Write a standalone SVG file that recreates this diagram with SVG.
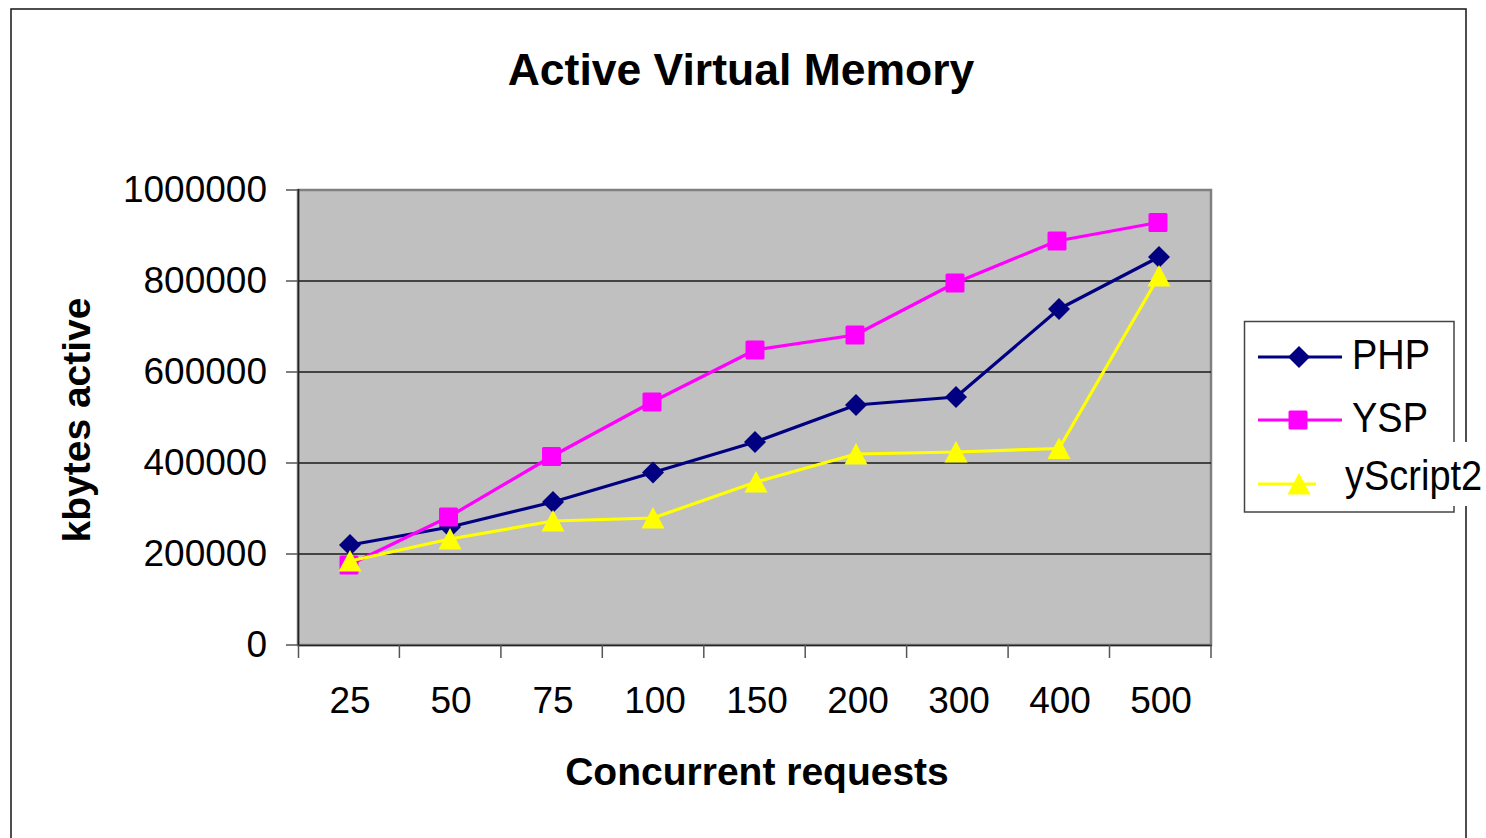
<svg xmlns="http://www.w3.org/2000/svg" width="1486" height="838" viewBox="0 0 1486 838">
  <style>
    text { font-family: "Liberation Sans", Arial, sans-serif; fill: #000; }
    .title { font-size: 44.5px; font-weight: bold; text-anchor: middle; }
    .axis-title { font-size: 39px; font-weight: bold; text-anchor: middle; }
    .ylab { font-size: 37px; text-anchor: end; }
    .xlab { font-size: 37px; text-anchor: middle; }
    .leg { font-size: 38px; }
    .grid { stroke: #1a1a1a; stroke-width: 1.3; }
    .tick { stroke: #555; stroke-width: 1.5; }
    .php { fill: none; stroke: #000080; stroke-width: 3.2; stroke-linejoin: round; }
    .ysp { fill: none; stroke: #FF00FF; stroke-width: 3.2; stroke-linejoin: round; }
    .ys2 { fill: none; stroke: #FFFF00; stroke-width: 3.2; stroke-linejoin: round; }
  </style>
  <defs>
    <path id="diamond" d="M0,-11 L11,0 L0,11 L-11,0 Z" fill="#000080"/>
    <rect id="square" x="-9.5" y="-9.5" width="19" height="19" rx="1.5" fill="#FF00FF"/>
    <path id="triangle" d="M0,-11 L11.5,10.5 L-11.5,10.5 Z" fill="#FFFF00"/>
  </defs>

  <rect width="1486" height="838" fill="#fff"/>
  <!-- chart frame -->
  <rect id="frame" x="11" y="9" width="1455" height="850" fill="#fff" stroke="#222" stroke-width="1.6"/>

  <text class="title" x="741" y="85">Active Virtual Memory</text>

  <!-- plot area -->
  <g id="plot-area">
    <rect x="298" y="190" width="913" height="455" fill="#C0C0C0" stroke="#808080" stroke-width="2.5"/>
    <line class="grid" x1="298" y1="281" x2="1211" y2="281"/>
    <line class="grid" x1="298" y1="372" x2="1211" y2="372"/>
    <line class="grid" x1="298" y1="463" x2="1211" y2="463"/>
    <line class="grid" x1="298" y1="554" x2="1211" y2="554"/>
    <line x1="298.5" y1="189" x2="298.5" y2="646" stroke="#222" stroke-width="1.6"/>
    <line x1="298" y1="645.5" x2="1212" y2="645.5" stroke="#222" stroke-width="1.6"/>
  </g>

  <!-- y axis ticks and labels -->
  <g id="y-axis">
    <line class="tick" x1="286" y1="190" x2="298" y2="190"/>
    <line class="tick" x1="286" y1="281" x2="298" y2="281"/>
    <line class="tick" x1="286" y1="372" x2="298" y2="372"/>
    <line class="tick" x1="286" y1="463" x2="298" y2="463"/>
    <line class="tick" x1="286" y1="554" x2="298" y2="554"/>
    <line class="tick" x1="286" y1="645" x2="298" y2="645"/>
    <text class="ylab" x="267" y="202">1000000</text>
    <text class="ylab" x="267" y="293">800000</text>
    <text class="ylab" x="267" y="384">600000</text>
    <text class="ylab" x="267" y="475">400000</text>
    <text class="ylab" x="267" y="566">200000</text>
    <text class="ylab" x="267" y="657">0</text>
    <text class="axis-title" transform="translate(90,420) rotate(-90)">kbytes active</text>
  </g>

  <!-- x axis ticks and labels -->
  <g id="x-axis">
    <line class="tick" x1="298.5" y1="645" x2="298.5" y2="658"/>
    <line class="tick" x1="399.4" y1="645" x2="399.4" y2="658"/>
    <line class="tick" x1="500.9" y1="645" x2="500.9" y2="658"/>
    <line class="tick" x1="602.3" y1="645" x2="602.3" y2="658"/>
    <line class="tick" x1="703.8" y1="645" x2="703.8" y2="658"/>
    <line class="tick" x1="805.2" y1="645" x2="805.2" y2="658"/>
    <line class="tick" x1="906.6" y1="645" x2="906.6" y2="658"/>
    <line class="tick" x1="1008.1" y1="645" x2="1008.1" y2="658"/>
    <line class="tick" x1="1109.5" y1="645" x2="1109.5" y2="658"/>
    <line class="tick" x1="1211" y1="645" x2="1211" y2="658"/>
    <text class="xlab" x="350" y="713">25</text>
    <text class="xlab" x="451" y="713">50</text>
    <text class="xlab" x="553" y="713">75</text>
    <text class="xlab" x="655" y="713">100</text>
    <text class="xlab" x="757" y="713">150</text>
    <text class="xlab" x="858" y="713">200</text>
    <text class="xlab" x="959" y="713">300</text>
    <text class="xlab" x="1060" y="713">400</text>
    <text class="xlab" x="1161" y="713">500</text>
    <text class="axis-title" x="757" y="785">Concurrent requests</text>
  </g>

  <!-- data series -->
  <g id="connectors">
    <g id="series-php">
      <polyline class="php" points="350,545 450,527 553,502 653,472.5 755,442 856,405 956,397 1059,309 1159,257"/>
      <use href="#diamond" x="350" y="545"/>
      <use href="#diamond" x="450" y="527"/>
      <use href="#diamond" x="553" y="502"/>
      <use href="#diamond" x="653" y="472.5"/>
      <use href="#diamond" x="755" y="442"/>
      <use href="#diamond" x="856" y="405"/>
      <use href="#diamond" x="956" y="397"/>
      <use href="#diamond" x="1059" y="309"/>
      <use href="#diamond" x="1159" y="257"/>
    </g>
    <g id="series-ysp">
      <polyline class="ysp" points="349,565 448.5,517 551.5,456.5 652,402 755,350 855,335 955,283 1057,241 1158,222.5"/>
      <use href="#square" x="349" y="565"/>
      <use href="#square" x="448.5" y="517"/>
      <use href="#square" x="551.5" y="456.5"/>
      <use href="#square" x="652" y="402"/>
      <use href="#square" x="755" y="350"/>
      <use href="#square" x="855" y="335"/>
      <use href="#square" x="955" y="283"/>
      <use href="#square" x="1057" y="241"/>
      <use href="#square" x="1158" y="222.5"/>
    </g>
    <g id="series-yscript2">
      <polyline class="ys2" points="350,561 450,539 553,521 653,518 756,482 856,454 956,452 1059,448.5 1159,276"/>
      <use href="#triangle" x="350" y="561"/>
      <use href="#triangle" x="450" y="539"/>
      <use href="#triangle" x="553" y="521"/>
      <use href="#triangle" x="653" y="518"/>
      <use href="#triangle" x="756" y="482"/>
      <use href="#triangle" x="856" y="454"/>
      <use href="#triangle" x="956" y="452"/>
      <use href="#triangle" x="1059" y="448.5"/>
      <use href="#triangle" x="1159" y="276"/>
    </g>
  </g>

  <!-- legend -->
  <g id="legend">
    <rect x="1244.5" y="321.5" width="209.5" height="190.5" fill="#fff" stroke="#444" stroke-width="1.5"/>
    <g id="legend-php">
      <line class="php" x1="1258" y1="357" x2="1342" y2="357"/>
      <use href="#diamond" x="1299" y="357"/>
      <text class="leg" transform="translate(1352,369) scale(1,1.12)">PHP</text>
    </g>
    <g id="legend-ysp">
      <line class="ysp" x1="1258" y1="420" x2="1342" y2="420"/>
      <use href="#square" x="1298" y="420"/>
      <text class="leg" transform="translate(1352,432) scale(1,1.12)">YSP</text>
    </g>
    <g id="legend-yscript2">
      <line class="ys2" x1="1258" y1="484" x2="1316" y2="484"/>
      <use href="#triangle" x="1299" y="484"/>
      <rect x="1336" y="442" width="150" height="64" fill="#fff"/>
      <text class="leg" transform="translate(1345,490) scale(1,1.1)">yScript2</text>
    </g>
  </g>
</svg>
